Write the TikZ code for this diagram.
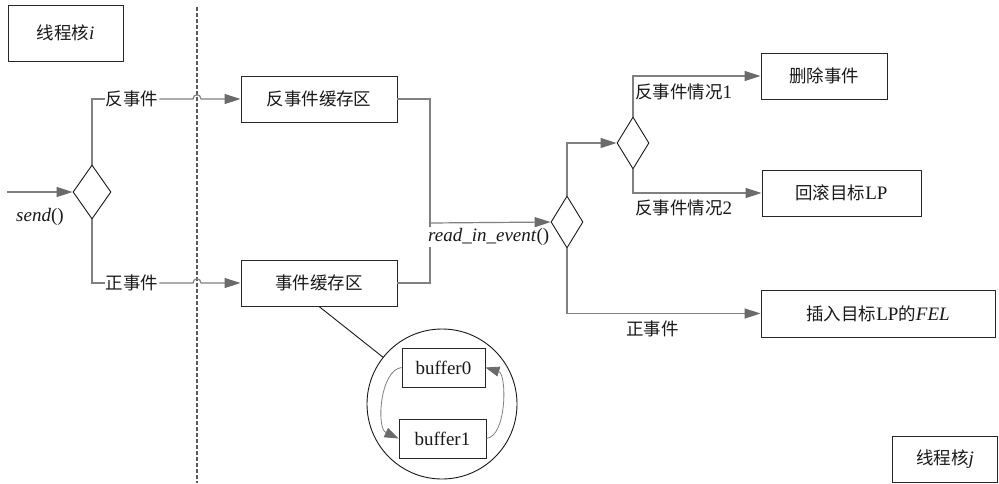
\documentclass[tikz,border=0pt]{standalone}
\usepackage{fontspec}
\setmainfont{Liberation Serif}
\newfontfamily\cjk{Noto Sans CJK SC}[Scale=0.92]
\usetikzlibrary{shapes.geometric,arrows.meta,calc}
\begin{document}
\begin{tikzpicture}[x=1pt,y=-1pt,font=\fontsize{19}{22}\selectfont,
  box/.style={draw=black!85,line width=0.9pt,inner sep=0pt,text=black!90},
  dia/.style={draw=black!90,line width=0.9pt,diamond,inner sep=0pt},
  conn/.style={draw=black!50,line width=1.2pt},
  arr/.style={conn,-{Triangle[length=16pt,width=10pt,fill=black!58,color=black!58]}},
  carr/.style={draw=black!50,line width=0.8pt,-{Triangle[length=14pt,width=10pt,fill=black!58,color=black!58]}},
  lbl/.style={fill=white,inner sep=1pt,text=black!90},
  sep/.style={draw=black!65,line width=1.2pt,dash pattern=on 4pt off 2pt}]
\useasboundingbox (0,0) rectangle (999,483);
\fill[white] (0,0) rectangle (999,483);
% separator
\coordinate (st) at (197,7);
\coordinate (sb) at (197,483);
\draw[sep] (st) -- (sb);
% nodes
\node[box,minimum width=115,minimum height=56] (ti) at (65.5,33) {{\cjk 线程核}\textit{i}};
\node[box,minimum width=105,minimum height=46] (tj) at (945,459) {{\cjk 线程核}\textit{j}};
\node[box,minimum width=156,minimum height=46] (abuf) at (319,99) {\cjk 反事件缓存区};
\node[box,minimum width=156,minimum height=46] (evbuf) at (319,283) {\cjk 事件缓存区};
\node[box,minimum width=126,minimum height=46] (del) at (824,76) {\cjk 删除事件};
\node[box,minimum width=159,minimum height=46] (rb) at (841.5,193) {{\cjk 回滚目标}LP};
\node[box,minimum width=234,minimum height=47] (ins) at (878,313.5) {{\cjk 插入目标}LP{\cjk 的}\textit{FEL}};
\node[dia,minimum width=38,minimum height=54] (d1) at (92,192) {};
\node[dia,minimum width=32,minimum height=52] (d2) at (567,222) {};
\node[dia,minimum width=32,minimum height=52] (d3) at (633,143) {};
\node[draw=black!90,line width=0.9pt,circle,minimum size=150,inner sep=0pt] (circ) at (442,404) {};
\node[box,minimum width=83,minimum height=39] (b0) at (443.5,367.5) {buffer0};
\node[box,minimum width=87,minimum height=39] (b1) at (442.5,438.5) {buffer1};
% input
\coordinate (in) at (7,192);
\draw[arr] (in) -- (d1.west);
\node[text=black!90] (send) at (40,217) {\textit{send}()};
% upper / lower branches
\node[lbl] (la) at (132,99) {\cjk 反事件};
\node[lbl] (lb) at (132,283) {\cjk 正事件};
\draw[conn] (d1.north) |- (la.west);
\draw[conn] (d1.south) |- (lb.west);
\draw[arr] (la.east) -- (193,99) .. controls (193,93.5) and (201,93.5) .. (201,99) -- (abuf.west);
\draw[arr] (lb.east) -- (193,283) .. controls (193,277.5) and (201,277.5) .. (201,283) -- (evbuf.west);
% merge
\coordinate (j) at (430,223);
\draw[conn] (abuf.east) -| (j);
\draw[conn] (evbuf.east) -| (j);
\draw[arr] (j) -- (d2.west);
\node[lbl,anchor=west] (rie) at (427,237) {\textit{read\_in\_event}()};
% right side
\draw[arr] (d2.north) |- (d3.west);
\draw[arr] (d3.north) |- (del.west);
\draw[arr] (d3.south) |- (rb.west);
\draw[arr] (d2.south) |- (ins.west);
\node[lbl,anchor=west] (c1) at (634,92) {{\cjk 反事件情况}1};
\node[lbl,anchor=west] (c2) at (634,208) {{\cjk 反事件情况}2};
\node[lbl,anchor=west] (c3) at (625,329) {\cjk 正事件};
% buffers
\draw[draw=black!90,line width=0.9pt] (evbuf.south) -- (circ);
\draw[carr] (b0.west) .. controls (380,370) and (376,428) .. (b1.west);
\draw[carr] (b1.east) .. controls (507,436) and (507,374) .. (b0.east);
\end{tikzpicture}
\end{document}
